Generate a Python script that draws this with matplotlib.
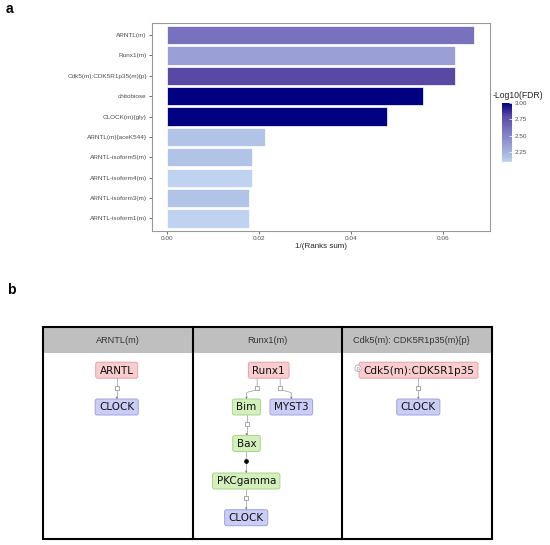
import matplotlib
matplotlib.use("Agg")
import matplotlib.pyplot as plt
from matplotlib.colors import LinearSegmentedColormap, Normalize
from matplotlib.cm import ScalarMappable
from matplotlib.patches import FancyBboxPatch, Rectangle, Circle, Polygon
import numpy as np

# ---------------- data ----------------
terms = ["ARNTL(m)", "Runx1(m)", "Cdk5(m):CDK5R1p35(m){p}", "chitobiose",
         "CLOCK(m){gly}", "ARNTL(m){aceK544}", "ARNTL-isoform5(m)",
         "ARNTL-isoform4(m)", "ARNTL-isoform3(m)", "ARNTL-isoform1(m)"]
inv_rank_sum = [0.0668, 0.0627, 0.0627, 0.0558, 0.0478, 0.0214, 0.0186, 0.0186, 0.0179, 0.0179]
neglog_fdr = [2.60, 2.35, 2.80, 3.00, 3.00, 2.17, 2.17, 2.11, 2.17, 2.11]
x_ticks = [0.00, 0.02, 0.04, 0.06]
cbar_ticks = [2.25, 2.50, 2.75, 3.00]

panel_titles = ["ARNTL(m)", "Runx1(m)", "Cdk5(m): CDK5R1p35(m){p}"]
node_labels = [["ARNTL", "CLOCK"],
               ["Runx1", "Bim", "MYST3", "Bax", "PKCgamma", "CLOCK"],
               ["Cdk5(m):CDK5R1p35", "CLOCK"]]
node_kinds = [["complex", "target"],
              ["complex", "gene", "target", "gene", "gene", "target"],
              ["complex", "target"]]
edges = [[(0, 1, "open")],
         [(0, 1, "open"), (0, 2, "open"), (1, 3, "open"), (3, 4, "dot"), (4, 5, "open")],
         [(0, 1, "open")]]
phospho_nodes = [[], [], [0]]

# ---------------- layout / style ----------------
W, H = 550, 545
fig = plt.figure(figsize=(W / 100, H / 100), dpi=100)
SANS = "Liberation Sans"

def fx(px):
    return px / W

def fy(py):
    return 1 - py / H

# colour scale
cmap = LinearSegmentedColormap.from_list(
    "fdr",
    [(0.0, "#bfd3f0"), (0.07, "#b0c2e6"), (0.27, "#9aa0d5"),
     (0.55, "#7872be"), (0.775, "#5a48a4"), (1.0, "#000080")])
norm = Normalize(2.11, 3.0)

# ---------------- panel b (drawn first, underneath) ----------------
axb = fig.add_axes([0, 0, 1, 1])
axb.set_xlim(0, W)
axb.set_ylim(H, 0)
axb.axis("off")
axb.patch.set_visible(False)

frame_l, frame_r, frame_t, frame_b = 43.3, 492.3, 327.3, 539.3
dividers = [193.3, 342.3]
header_h = 26
col_edges = [frame_l] + dividers + [frame_r]

axb.add_patch(Rectangle((frame_l, frame_t), frame_r - frame_l, header_h,
                        facecolor="#bfbfbf", edgecolor="none", zorder=1))
for i, t in enumerate(panel_titles):
    cx = (col_edges[i] + col_edges[i + 1]) / 2
    axb.text(cx - (6 if i == 2 else 0), frame_t + header_h / 2, t, ha="center", va="center",
             fontsize=6.6, color="#333333", family=SANS, zorder=3)
axb.add_patch(Rectangle((frame_l, frame_t), frame_r - frame_l, frame_b - frame_t,
                        facecolor="none", edgecolor="black", lw=1.5, zorder=5))
for d in dividers:
    axb.plot([d, d], [frame_t, frame_b], color="black", lw=1.5, zorder=5)

node_pos = [[(116.7, 370.2), (116.7, 407.0)],
            [(268.7, 370.2), (246.5, 407.0), (291.3, 407.0), (246.5, 443.5),
             (246.2, 481.0), (246.2, 517.7)],
            [(418.5, 370.2), (418.3, 407.0)]]
kind_style = {"complex": ("#f9cdd0", "#e3a3a8"),
              "gene": ("#d3efbb", "#a9d68e"),
              "target": ("#cbcdf6", "#9fa3dc")}
box_h = 16
pad_x = 4

renderer = fig.canvas.get_renderer()
boxes = []
for p in range(3):
    pboxes = []
    for j, lab in enumerate(node_labels[p]):
        cx, cy = node_pos[p][j]
        txt = axb.text(cx, cy + 0.5, lab, ha="center", va="center", fontsize=7.5,
                       color="#111111", family="DejaVu Sans", zorder=4)
        bb = txt.get_window_extent(renderer=renderer)
        w = bb.width + 2 * pad_x
        fc, ec = kind_style[node_kinds[p][j]]
        axb.add_patch(FancyBboxPatch((cx - w / 2, cy - box_h / 2), w, box_h,
                                     boxstyle="round,pad=0,rounding_size=2",
                                     facecolor=fc, edgecolor=ec, lw=0.7, zorder=3))
        pboxes.append((cx, cy, w))
        if j in phospho_nodes[p]:
            px_, py_ = cx - w / 2 - 1, cy - 2
            axb.add_patch(Circle((px_, py_), 3.2, facecolor="white",
                                 edgecolor="#aaaaaa", lw=0.6, zorder=4))
            axb.text(px_, py_, "p", ha="center", va="center", fontsize=3.5,
                     color="#888888", zorder=5)
    boxes.append(pboxes)

edge_col = "#a8a8a8"
for p in range(3):
    for s, t, kind in edges[p]:
        sx, sy, sw = boxes[p][s]
        tx, ty, tw = boxes[p][t]
        y0 = sy + box_h / 2
        y1 = ty - box_h / 2
        if abs(sx - tx) < 1:
            ex = tx
            xs = [ex, ex]
            ys = [y0, y1]
        else:
            ex = sx + np.sign(tx - sx) * 11.5
            ym = y0 + (y1 - y0) * 0.62
            tt = np.linspace(0, 1, 20)
            sm = tt * tt * (3 - 2 * tt)
            xs = [ex, ex] + list(ex + (tx - ex) * sm) + [tx]
            ys = [y0, ym - 2] + list(ym - 2 + 4 * tt) + [y1]
        axb.plot(xs, ys, color=edge_col, lw=0.6, zorder=2)
        my = y0 + (y1 - y0) * 0.45
        if kind == "open":
            axb.plot([ex], [my], marker="s", ms=2.6, mfc="white", mec="#999999",
                     mew=0.6, zorder=3)
        else:
            axb.plot([ex], [my], marker="o", ms=2.8, mfc="black", mec="black",
                     mew=0.5, zorder=3)
        axb.add_patch(Polygon([[tx - 1.2, y1 - 2.2], [tx + 1.2, y1 - 2.2], [tx, y1]],
                              closed=True, facecolor="#777777", edgecolor="none", zorder=3))

# ---------------- panel a ----------------
left, right, top, bottom = 151.7, 490.0, 22.7, 230.7
ax = fig.add_axes([fx(left), fy(bottom), (right - left) / W, (bottom - top) / H])
n = len(terms)
ypos = np.arange(n)[::-1]
ax.barh(ypos, inv_rank_sum, height=0.9, color=cmap(norm(np.array(neglog_fdr))),
        edgecolor="white", linewidth=0.5)
ax.set_xlim(-0.00326, 0.0703)
ax.set_ylim(-0.6, n - 0.4)
ax.set_yticks(ypos)
ax.set_yticklabels(terms, family=SANS)
ax.set_xticks(x_ticks)
ax.set_xticklabels([f"{v:.2f}" for v in x_ticks], family=SANS)
ax.tick_params(axis="both", labelsize=4.6, labelcolor="#4d4d4d", length=2,
               width=0.5, color="#333333", pad=1.5)
for sp in ax.spines.values():
    sp.set_color("#999999")
    sp.set_linewidth(0.8)
ax.set_xlabel("1/(Ranks sum)", fontsize=5.8, color="#222222", labelpad=2, family=SANS)

cax = fig.add_axes([fx(501.7), fy(161.7), 10.6 / W, 59 / H])
cb = fig.colorbar(ScalarMappable(norm=norm, cmap=cmap), cax=cax)
cb.outline.set_visible(False)
cb.set_ticks(cbar_ticks)
cb.set_ticklabels([f"{v:.2f}" for v in cbar_ticks])
for lab in cax.get_yticklabels():
    lab.set_family(SANS)
cax.tick_params(labelsize=4.6, labelcolor="#4d4d4d", length=2.5, width=0.5,
                color="white", direction="in", pad=2)
fig.text(fx(492.3), fy(95.7), "-Log10(FDR)", fontsize=6.2, color="#222222",
         ha="left", va="center", family=SANS)

fig.text(fx(6), fy(9), "a", fontsize=10, fontweight="bold", ha="left", va="center", family=SANS)
fig.text(fx(7), fy(290), "b", fontsize=10, fontweight="bold", ha="left", va="center", family=SANS)

fig.savefig("out.png", dpi=100)
